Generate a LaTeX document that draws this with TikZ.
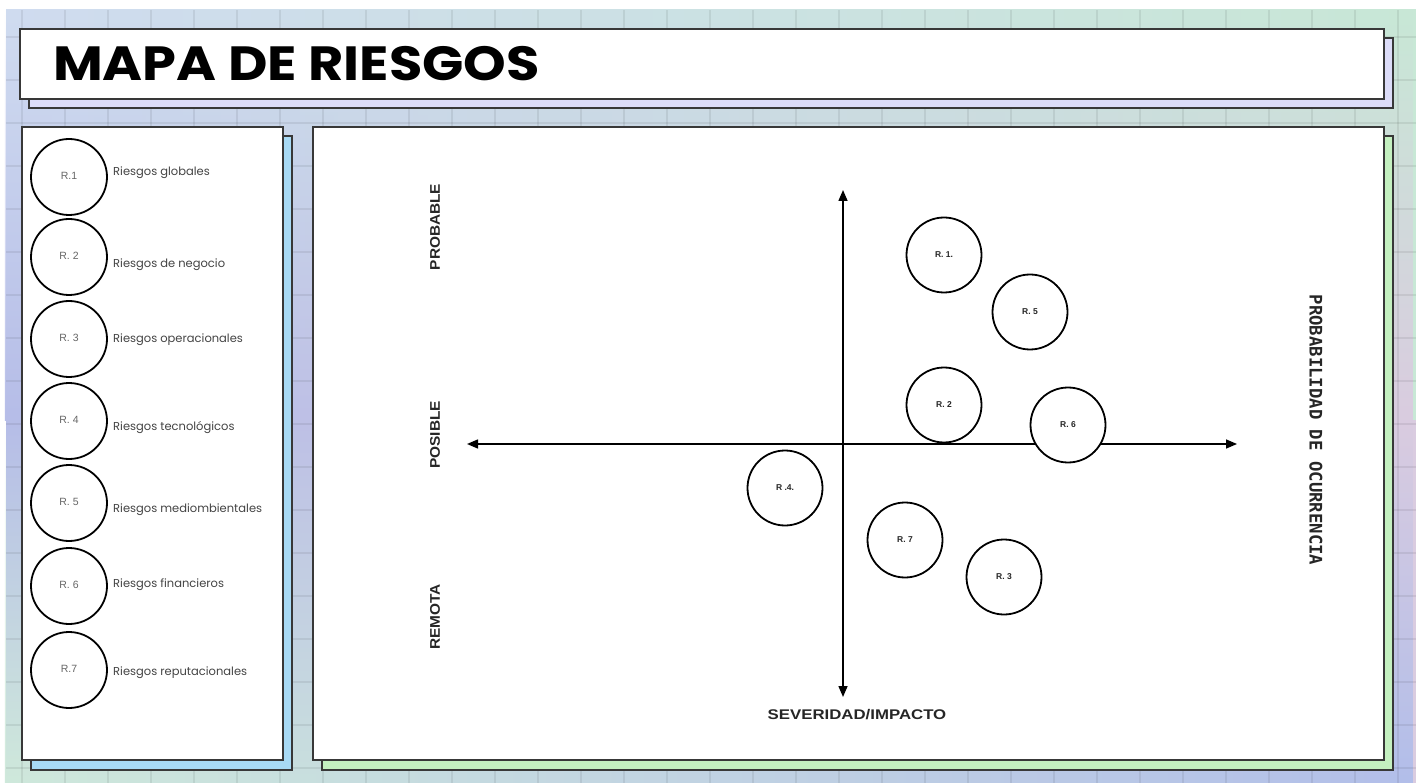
\documentclass[tikz,border=0pt]{standalone}
\usepackage{fontspec}
\setmainfont{Poppins}
\newfontfamily\axisfont{Liberation Sans}
\newfontfamily\monofont{DejaVu Sans Mono}
\usepackage{graphicx}
\usepackage{xcolor}
\usepackage{tikz}
\usetikzlibrary{
  positioning,
  calc,
  arrows.meta,
  fadings
}

\definecolor{bgTL}{HTML}{D0DCF0}
\definecolor{bgTC}{HTML}{C6C4E8}
\definecolor{bgTR}{HTML}{C8E8D6}
\definecolor{bgML}{HTML}{B6BDE8}
\definecolor{bgMC}{HTML}{C2B3DF}
\definecolor{bgMR}{HTML}{DACCE0}
\definecolor{bgBL}{HTML}{CFE9DB}
\definecolor{bgBC}{HTML}{C0D2EA}
\definecolor{bgBR}{HTML}{B2BEEA}
\definecolor{edge}{HTML}{383838}
\definecolor{shadeTitle}{HTML}{DCDCF8}
\definecolor{shadeLeft}{HTML}{A8DAF5}
\definecolor{shadeRight}{HTML}{C4F0C0}
\definecolor{legtext}{HTML}{444444}

\tikzfading[name=fadedown, top color=transparent!100, bottom color=transparent!0]

\newcommand{\wide}[2]{\scalebox{#1}[1]{#2}}

\tikzset{
  panel/.style={draw=edge, line width=2pt, fill=white},
  shadowbox/.style={draw=edge, line width=2pt},
  gridline/.style={black, opacity=0.07, line width=1.2pt},
  legcircle/.style={circle, draw=black, line width=1.8pt, minimum size=76pt, inner sep=0pt,
    font=\axisfont\fontsize{10.5}{12}\selectfont, text=black!60},
  legtxt/.style={anchor=west, inner sep=0pt, font=\fontsize{11.5}{13}\selectfont, text=legtext},
  riskcircle/.style={circle, draw=black, fill=white, line width=1.8pt, minimum size=75pt, inner sep=0pt,
    font=\axisfont\bfseries\fontsize{8.5}{10}\selectfont, text=black!85},
  axislabel/.style={font=\axisfont\bfseries\fontsize{14}{16}\selectfont, text=black!85, inner sep=0pt},
  axisline/.style={line width=1.5pt, {Triangle[length=11pt,width=9pt]}-{Triangle[length=11pt,width=9pt]}}
}

\begin{document}
\begin{tikzpicture}[x=1pt, y=-1pt]
  \useasboundingbox (0,0) rectangle (1416,783);
  \fill[white] (0,0) rectangle (1416,783);

  % background
  \shade[left color=bgTL, middle color=bgTC, right color=bgTR] (6,10) rectangle (1416,420);
  \shade[left color=bgML, middle color=bgMC, right color=bgMR, path fading=fadedown, fit fading=true]
    (6,10) rectangle (1416,420);
  \shade[left color=bgML, middle color=bgMC, right color=bgMR] (6,420) rectangle (1416,783);
  \shade[left color=bgBL, middle color=bgBC, right color=bgBR, path fading=fadedown, fit fading=true]
    (6,420) rectangle (1416,783);
  \foreach \gx in {0,...,32} \draw[gridline] ({22+43*\gx},10) -- ({22+43*\gx},783);
  \foreach \gy in {0,...,17} \draw[gridline] (6,{37+43*\gy}) -- (1416,{37+43*\gy});

  % title
  \draw[shadowbox, fill=shadeTitle] (29,38) rectangle (1393,108);
  \draw[panel] (20,29) rectangle (1384,99);
  \node[anchor=base west, inner sep=0pt, font=\bfseries\fontsize{48}{50}\selectfont] (title)
    at (53,81) {\wide{1.13}{MAPA DE RIESGOS}};

  % panels
  \draw[shadowbox, fill=shadeLeft] (31,136) rectangle (292,770);
  \draw[panel] (22,127) rectangle (283,760);
  \draw[shadowbox, fill=shadeRight] (322,136) rectangle (1393,770);
  \draw[panel] (313,127) rectangle (1384,760);

  % legend
  \foreach \k/\cy/\rl/\ty/\txt in {1/177/R.1/173/Riesgos globales,
      2/257/R. 2/265/Riesgos de negocio,
      3/339/R. 3/340/Riesgos operacionales,
      4/421/R. 4/428/Riesgos tecnológicos,
      5/503/R. 5/510/Riesgos mediombientales,
      6/586/R. 6/585/Riesgos financieros,
      7/670/R.7/673/Riesgos reputacionales}{
    \node[legcircle] (leg\k) at (69,\cy) {\raisebox{3pt}{\rl}};
    \node[legtxt] (legtxt\k) at (113,\ty) {\txt};
  }

  % axes
  \coordinate (axtop) at (843,190);
  \coordinate (axbot) at (843,697);
  \coordinate (axleft) at (467,444);
  \coordinate (axright) at (1237,444);
  \draw[axisline] (axtop) -- (axbot);
  \draw[axisline] (axleft) -- (axright);

  % risks
  \node[riskcircle] (r1) at (944,255) {R. 1.};
  \node[riskcircle] (r5) at (1030,312) {R. 5};
  \node[riskcircle] (r2) at (944,405) {R. 2};
  \node[riskcircle] (r6) at (1068,425) {R. 6};
  \node[riskcircle] (r4) at (785,488) {R .4.};
  \node[riskcircle] (r7) at (905,540) {R. 7};
  \node[riskcircle] (r3) at (1004,577) {R. 3};

  % axis labels
  \node[axislabel] (sev) at (857,715) {\wide{1.2}{SEVERIDAD/IMPACTO}};
  \node[axislabel, rotate=90] (probable) at (435,227) {\wide{1.1}{PROBABLE}};
  \node[axislabel, rotate=90] (posible) at (435,435) {\wide{1.1}{POSIBLE}};
  \node[axislabel, rotate=90] (remota) at (435,617) {\wide{1.1}{REMOTA}};
  \node[inner sep=0pt, rotate=-90, text=black!85, font=\monofont\bfseries\fontsize{17.3}{19}\selectfont]
    (ocurrencia) at (1316,430) {PROBABILIDAD DE OCURRENCIA};
\end{tikzpicture}
\end{document}
